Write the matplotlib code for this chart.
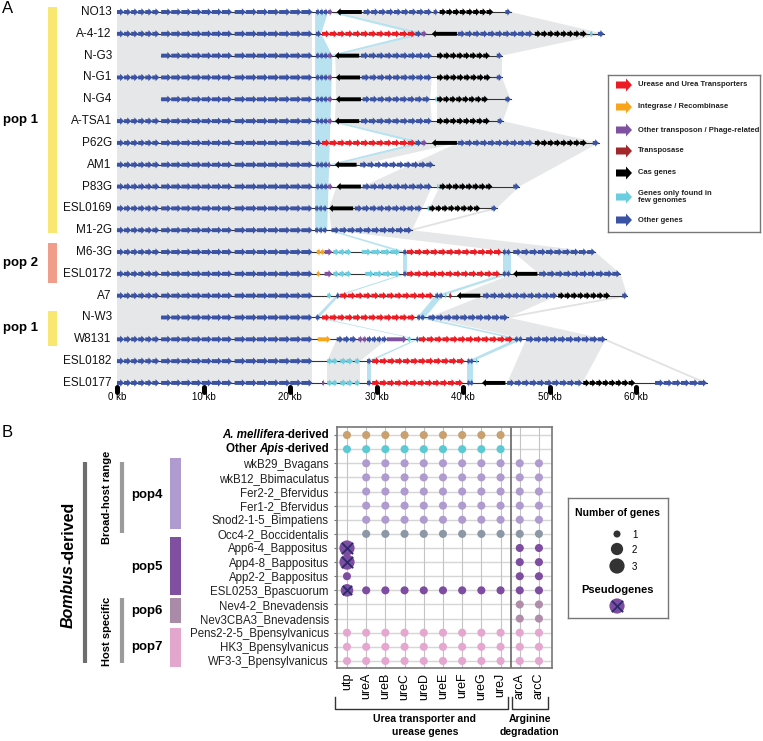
import matplotlib
matplotlib.use('Agg')
import matplotlib.pyplot as plt
from matplotlib.patches import Polygon, Rectangle
from matplotlib.collections import PatchCollection
import numpy as np

plt.rcParams['font.family'] = ['Liberation Sans', 'DejaVu Sans']

# ---------------- Panel A data ----------------
track_names = ['NO13', 'A-4-12', 'N-G3', 'N-G1', 'N-G4', 'A-TSA1', 'P62G', 'AM1', 'P83G',
               'ESL0169', 'M1-2G', 'M6-3G', 'ESL0172', 'A7', 'N-W3', 'W8131', 'ESL0182', 'ESL0177']
track_start = [0, 0, 5.1, 0, 5.1, 0, 0, 0, 0, 0, 0, 0, 0, 0, 5.1, 0, 0, 0]

# gene blocks: (start kb, end kb, category, number of genes, strand)
LEFT = [(0, 4.9, 'O', 6, 1), (5.1, 13.3, 'O', 7, 1), (13.6, 22.6, 'O', 7, 1)]
LEFT5 = LEFT[1:]
track_genes = [
    LEFT + [(23.0, 24.4, 'O', 3, 1), (24.4, 24.9, 'P', 1, 1), (25.4, 28.3, 'C', 1, -1), (28.5, 36.4, 'O', 9, 1),
            (36.6, 37.1, 'O', 1, 1), (37.3, 43.5, 'C', 8, 1), (44.9, 45.5, 'O', 1, 1)],
    LEFT + [(23.0, 23.6, 'O', 1, 1), (23.7, 34.5, 'U', 12, 1), (34.5, 35.2, 'O', 1, 1), (35.2, 35.8, 'P', 1, 1),
            (36.4, 39.3, 'C', 1, -1), (39.4, 48.1, 'O', 10, 1), (48.3, 54.3, 'C', 8, 1), (54.7, 55.0, 'F', 1, 1),
            (55.6, 56.3, 'O', 1, 1)],
    LEFT5 + [(23.0, 24.4, 'O', 3, 1), (24.4, 24.9, 'P', 1, 1), (25.2, 28.0, 'C', 1, -1), (28.2, 36.4, 'O', 9, 1),
             (37.0, 43.1, 'C', 8, 1), (43.9, 44.5, 'O', 1, 1)],
    LEFT + [(23.0, 24.4, 'O', 3, 1), (24.4, 24.9, 'P', 1, 1), (25.3, 28.1, 'C', 1, -1), (28.3, 36.4, 'O', 9, 1),
            (37.0, 43.2, 'C', 8, 1), (43.9, 44.5, 'O', 1, 1)],
    LEFT5 + [(23.0, 24.4, 'O', 3, 1), (24.4, 24.9, 'P', 1, 1), (25.3, 28.2, 'C', 1, -1), (28.4, 36.2, 'O', 9, 1),
             (36.8, 37.0, 'F', 1, 1), (37.0, 42.9, 'C', 8, 1), (44.9, 45.5, 'O', 1, 1)],
    LEFT + [(23.0, 24.4, 'O', 3, 1), (24.4, 24.9, 'P', 1, 1), (25.2, 28.0, 'C', 1, -1), (28.2, 36.4, 'O', 9, 1),
            (37.0, 43.1, 'C', 8, 1), (44.0, 44.6, 'O', 1, 1)],
    LEFT + [(23.0, 23.6, 'O', 1, 1), (23.7, 34.5, 'U', 12, 1), (34.5, 35.2, 'O', 1, 1), (35.2, 35.8, 'P', 1, 1),
            (36.4, 39.3, 'C', 1, -1), (39.4, 48.1, 'O', 10, 1), (48.3, 54.3, 'C', 8, 1), (55.0, 55.7, 'O', 1, 1)],
    LEFT + [(23.0, 24.4, 'O', 3, 1), (24.4, 24.7, 'P', 1, 1), (25.2, 27.7, 'C', 1, -1), (28.1, 36.6, 'O', 10, 1)],
    LEFT + [(23.0, 24.4, 'O', 3, 1), (24.4, 24.9, 'P', 1, 1), (25.4, 28.2, 'C', 1, -1), (28.4, 36.4, 'O', 9, 1),
            (37.0, 37.2, 'F', 1, 1), (37.3, 43.4, 'C', 8, 1), (45.8, 46.5, 'O', 1, 1)],
    LEFT + [(22.9, 24.3, 'O', 3, 1), (24.5, 27.3, 'C', 1, -1), (27.5, 35.3, 'O', 9, 1), (35.9, 36.1, 'F', 1, 1),
            (36.1, 42.0, 'C', 8, 1), (43.3, 43.9, 'O', 1, 1)],
    LEFT + [(22.9, 24.3, 'O', 3, 1), (24.8, 34.1, 'O', 10, 1)],
    LEFT + [(23.1, 23.6, 'I', 1, 1), (23.6, 24.0, 'I', 1, 1), (24.0, 24.9, 'P', 1, 1), (25.0, 27.1, 'F', 3, 1),
            (28.3, 32.7, 'F', 4, 1), (33.1, 33.5, 'O', 1, 1), (33.5, 44.5, 'U', 12, 1), (44.6, 45.5, 'O', 2, 1),
            (45.8, 55.3, 'O', 10, 1)],
    LEFT + [(23.1, 23.5, 'I', 1, 1), (24.0, 24.9, 'P', 1, 1), (25.0, 27.1, 'F', 3, 1), (28.7, 32.7, 'F', 4, 1),
            (33.1, 33.5, 'O', 1, 1), (33.5, 44.3, 'U', 12, 1), (44.6, 45.5, 'O', 2, 1), (45.8, 48.6, 'C', 1, -1),
            (48.8, 58.2, 'O', 10, 1)],
    LEFT + [(24.3, 24.8, 'F', 1, 1), (25.3, 25.7, 'O', 1, -1), (25.8, 36.6, 'U', 12, 1), (36.8, 37.7, 'O', 2, 1),
            (37.9, 38.1, 'F', 1, 1), (38.4, 38.7, 'T', 1, 1), (39.3, 42.0, 'C', 1, -1), (42.3, 50.9, 'O', 10, 1),
            (51.0, 57.0, 'C', 8, 1), (58.4, 59.0, 'O', 1, 1)],
    LEFT5 + [(22.9, 23.4, 'O', 1, -1), (23.7, 34.5, 'U', 12, 1), (34.7, 35.6, 'O', 2, 1), (36.0, 45.2, 'O', 10, 1)],
    LEFT + [(23.2, 24.7, 'I', 1, 1), (25.4, 27.7, 'O', 3, 1), (27.9, 28.9, 'P', 2, 1), (28.9, 31.2, 'O', 4, 1),
            (31.2, 33.5, 'P', 1, 1), (33.6, 34.0, 'F', 1, 1), (34.6, 34.9, 'O', 1, 1), (34.9, 45.8, 'U', 12, 1),
            (46.0, 46.9, 'O', 2, 1), (47.3, 56.5, 'O', 10, 1)],
    LEFT + [(24.3, 25.5, 'F', 2, 1), (25.8, 27.3, 'F', 2, 1), (27.5, 28.1, 'F', 1, 1), (28.9, 29.4, 'O', 1, 1),
            (29.5, 40.2, 'U', 12, 1), (40.5, 41.2, 'O', 2, 1), (41.5, 41.7, 'F', 1, 1)],
    LEFT + [(23.7, 24.0, 'P', 1, 1), (24.3, 25.5, 'F', 2, 1), (25.8, 27.3, 'F', 2, 1), (27.5, 28.1, 'F', 1, 1),
            (28.9, 29.4, 'O', 1, 1), (29.5, 40.0, 'U', 12, 1), (40.5, 41.2, 'O', 2, 1), (42.2, 44.9, 'C', 1, -1),
            (45.1, 53.8, 'O', 10, 1), (53.9, 59.9, 'C', 8, 1), (62.2, 68.2, 'O', 6, 1)],
]

# homology links: (row a, row b, a start, a end, b start, b end, kind)
links = [
    (0, 17, 0, 22.6, 0, 22.6, 'g'),
    (0, 1, 22.9, 24.4, 22.9, 23.6, 'b'), (1, 2, 22.9, 23.6, 22.9, 24.9, 'b'), (2, 10, 22.9, 24.9, 22.9, 24.3, 'b'),
    (0, 1, 25.4, 45.5, 35.8, 56.3, 'g'), (0, 1, 24.4, 25.4, 34.5, 35.8, 'b'),
    (1, 2, 35.8, 56.3, 25.2, 44.5, 'g'), (1, 2, 34.5, 35.8, 24.4, 25.2, 'b'),
    (2, 3, 25.2, 44.5, 25.3, 44.5, 'g'),
    (3, 4, 25.3, 36.4, 25.3, 36.2, 'g'), (3, 4, 37.0, 44.5, 37.0, 45.5, 'g'),
    (4, 5, 25.3, 36.2, 25.2, 36.4, 'g'), (4, 5, 37.0, 45.5, 37.0, 44.6, 'g'),
    (5, 6, 25.2, 44.6, 35.8, 55.7, 'g'), (5, 6, 24.4, 25.2, 34.5, 35.8, 'b'),
    (6, 7, 35.8, 39.4, 25.2, 28.1, 'g'), (6, 7, 34.5, 35.8, 24.4, 25.2, 'b'),
    (6, 8, 39.4, 55.7, 28.4, 46.5, 'g'),
    (8, 9, 25.4, 36.4, 24.5, 35.3, 'g'), (8, 9, 37.3, 46.5, 36.1, 43.9, 'g'),
    (9, 10, 24.5, 35.3, 24.8, 34.1, 'g'), (9, 10, 43.6, 43.9, 33.8, 34.1, 'l'),
    (10, 11, 24.8, 34.1, 45.8, 55.3, 'g'), (10, 11, 24.3, 24.8, 32.7, 33.5, 'b'),
    (11, 12, 33.1, 33.5, 33.1, 33.5, 'b'), (11, 12, 44.6, 45.5, 44.6, 45.5, 'b'),
    (11, 12, 45.8, 55.3, 48.8, 58.2, 'g'),
    (12, 13, 33.1, 33.5, 25.3, 25.7, 'b'), (12, 13, 44.6, 45.5, 36.8, 37.7, 'b'),
    (12, 13, 45.8, 58.2, 39.3, 59.0, 'g'),
    (13, 14, 25.3, 25.7, 22.9, 23.4, 'b'), (13, 14, 36.8, 37.7, 34.7, 35.6, 'b'),
    (13, 14, 42.3, 50.9, 36.0, 45.2, 'g'), (13, 14, 58.7, 59.0, 44.9, 45.2, 'l'),
    (14, 15, 22.9, 23.4, 34.6, 34.9, 'b'), (14, 15, 34.7, 35.6, 46.0, 46.9, 'b'),
    (14, 15, 36.0, 45.2, 47.3, 56.5, 'g'),
    (15, 16, 34.6, 34.9, 28.9, 29.4, 'b'), (15, 16, 46.0, 46.9, 40.5, 41.2, 'b'),
    (15, 16, 25.4, 31.2, 24.3, 28.1, 'g'),
    (15, 17, 47.3, 56.5, 45.1, 53.8, 'g'), (15, 17, 56.2, 56.5, 67.9, 68.2, 'l'),
    (16, 17, 24.3, 28.1, 24.3, 28.1, 'g'), (16, 17, 28.9, 29.4, 28.9, 29.4, 'b'),
    (16, 17, 40.5, 41.2, 40.5, 41.2, 'b'),
]

gene_colors = {'U': '#ED1C24', 'I': '#F9A51B', 'P': '#7E52A0', 'T': '#A3262A',
               'C': '#000000', 'F': '#6ACDE0', 'O': '#3A53A4'}
legend_cats = ['U', 'I', 'P', 'T', 'C', 'F', 'O']
legend_labels = ['Urease and Urea Transporters', 'Integrase / Recombinase',
                 'Other transposon / Phage-related', 'Transposase', 'Cas genes',
                 'Genes only found in\nfew genomes', 'Other genes']

pop_groups = [('pop 1', -0.23, 10.13, '#F8E872'), ('pop 2', 10.6, 12.4, '#F19D8B'),
              ('pop 1', 13.7, 15.3, '#F8E872')]
kb_ticks = [0, 10, 20, 30, 40, 50, 60]

# ---------------- Panel B data ----------------
strains = ['A. mellifera-derived', 'Other Apis-derived', 'wkB29_Bvagans', 'wkB12_Bbimaculatus',
           'Fer2-2_Bfervidus', 'Fer1-2_Bfervidus', 'Snod2-1-5_Bimpatiens', 'Occ4-2_Boccidentalis',
           'App6-4_Bappositus', 'App4-8_Bappositus', 'App2-2_Bappositus', 'ESL0253_Bpascuorum',
           'Nev4-2_Bnevadensis', 'Nev3CBA3_Bnevadensis', 'Pens2-2-5_Bpensylvanicus',
           'HK3_Bpensylvanicus', 'WF3-3_Bpensylvanicus']
gene_names = ['utp', 'ureA', 'ureB', 'ureC', 'ureD', 'ureE', 'ureF', 'ureG', 'ureJ', 'arcA', 'arcC']
gene_counts = [
    [1, 1, 1, 1, 1, 1, 1, 1, 1, 0, 0],
    [1, 1, 1, 1, 1, 1, 1, 1, 1, 0, 0],
    [0, 1, 1, 1, 1, 1, 1, 1, 1, 1, 1],
    [0, 1, 1, 1, 1, 1, 1, 1, 1, 1, 1],
    [0, 1, 1, 1, 1, 1, 1, 1, 1, 1, 1],
    [0, 1, 1, 1, 1, 1, 1, 1, 1, 1, 1],
    [0, 1, 1, 1, 1, 1, 1, 1, 1, 1, 1],
    [0, 1, 1, 1, 1, 1, 1, 1, 1, 1, 1],
    [3, 0, 0, 0, 0, 0, 0, 0, 0, 1, 1],
    [3, 0, 0, 0, 0, 0, 0, 0, 0, 1, 1],
    [1, 0, 0, 0, 0, 0, 0, 0, 0, 1, 1],
    [2, 1, 1, 1, 1, 1, 1, 1, 1, 1, 1],
    [0, 0, 0, 0, 0, 0, 0, 0, 0, 1, 1],
    [0, 0, 0, 0, 0, 0, 0, 0, 0, 1, 1],
    [1, 1, 1, 1, 1, 1, 1, 1, 1, 1, 1],
    [1, 1, 1, 1, 1, 1, 1, 1, 1, 1, 1],
    [1, 1, 1, 1, 1, 1, 1, 1, 1, 1, 1],
]
pseudogenes = [(8, 0), (9, 0), (11, 0)]
strain_colors = ['#C9A06F', '#5CC9D3'] + ['#B09BD0'] * 5 + ['#8C98A6'] + ['#7E4CA0'] * 4 + \
                ['#B08DAA'] * 2 + ['#E5A6D0'] * 3
size_of = {1: 34, 2: 82, 3: 120}

pop_bars_B = [('pop4', 1.63, 6.65, '#B09BD0', 4.25), ('pop5', 7.25, 11.3, '#8050A0', 9.35),
              ('pop6', 11.55, 13.3, '#A98BA8', 12.46), ('pop7', 13.7, 16.45, '#E3A6CD', 15.0)]

# ---------------- figure ----------------
W, H = 763, 741
fig = plt.figure(figsize=(W / 100, H / 100), dpi=100)


def px_axes(x0, y0, x1, y1):
    return fig.add_axes([x0 / W, 1 - y1 / H, (x1 - x0) / W, (y1 - y0) / H])


def arrow_poly(x0, x1, y, d, hb=0.09, hh=0.17, hl=0.45):
    hl = min(hl, (x1 - x0) * 0.6)
    if d > 0:
        xs = [x0, x1 - hl, x1 - hl, x1, x1 - hl, x1 - hl, x0]
    else:
        xs = [x1, x0 + hl, x0 + hl, x0, x0 + hl, x0 + hl, x1]
    ys = [y - hb, y - hb, y - hh, y, y + hh, y + hb, y + hb]
    return np.column_stack([xs, ys])


# ---- Panel A ----
axA = px_axes(0, 0, 757, 400)
axA.set_xlim(-117 / 8.65, 640 / 8.65)
axA.set_ylim(388 / 21.82, -12 / 21.82)
axA.axis('off')

for ra, rb, a0, a1, b0, b1, kind in links:
    if kind == 'l':
        axA.plot([(a0 + a1) / 2, (b0 + b1) / 2], [ra, rb], color='#E2E2E2', lw=1.3, zorder=0.5)
    else:
        col = '#E6E7E8' if kind == 'g' else '#B8E2EF'
        axA.add_patch(Polygon([(a0, ra), (a1, ra), (b1, rb), (b0, rb)], closed=True,
                              facecolor=col, edgecolor='none', zorder=0.4 if kind == 'g' else 0.6))

polys, cols = [], []
for i, (name, start, genes) in enumerate(zip(track_names, track_start, track_genes)):
    end = max(g[1] for g in genes)
    axA.plot([start, end], [i, i], color='#333333', lw=0.8, zorder=1)
    for g0, g1, cat, n, d in genes:
        edges = np.linspace(g0, g1, n + 1)
        for k in range(n):
            polys.append(Polygon(arrow_poly(edges[k], edges[k + 1], i, d), closed=True))
            cols.append(gene_colors[cat])
    axA.text(-0.6, i, name, ha='right', va='center', fontsize=8.5, color='#111111')
axA.add_collection(PatchCollection(polys, facecolors=cols, edgecolors='none', zorder=2))

for label, y0, y1, col in pop_groups:
    axA.add_patch(Rectangle((-7.98, y0), 1.04, y1 - y0, facecolor=col, edgecolor='none'))
    axA.text(-11.1, (y0 + y1) / 2, label, ha='center', va='center', fontsize=9.5,
             fontweight='bold')

for k in kb_ticks:
    axA.plot([k, k], [17.18, 17.42], color='black', lw=3.6, solid_capstyle='round', zorder=3)
    axA.text(k, 17.66, f'{k} kb', ha='center', va='center', fontsize=7)

fig.text(2 / W, 1 - 1 / H, 'A', fontsize=12, va='top', ha='left')
fig.text(2 / W, 1 - 425 / H, 'B', fontsize=12, va='top', ha='left')

# legend A
axL = px_axes(608, 75, 760, 232)
axL.set_xlim(0, 152)
axL.set_ylim(157, 0)
axL.set_xticks([])
axL.set_yticks([])
for s in axL.spines.values():
    s.set_color('#777777')
    s.set_linewidth(1)
leg_y = [10, 32, 55, 76, 98, 122, 145]
for cat, lab, y in zip(legend_cats, legend_labels, leg_y):
    axL.add_patch(Polygon(arrow_poly(8, 24, y, 1, hb=3.5, hh=6.5, hl=6), closed=True,
                          facecolor=gene_colors[cat], edgecolor='none'))
    axL.text(30, y, lab, ha='left', va='center', fontsize=5.5, fontweight='bold',
             color='#222222', linespacing=1.0)

# ---- Panel B ----
axB = px_axes(337, 427, 552, 668)
axB.set_xlim(-0.52, 10.68)
axB.set_ylim(16.5, -0.57)
axB.hlines(range(len(strains)), -0.52, 10.68, color='#D6D6D6', lw=1, zorder=0)
axB.vlines(range(len(gene_names)), -0.57, 16.5, color='#C4C4C4', lw=0.8, zorder=0)
axB.axvline(8.55, color='#666666', lw=1.2, zorder=1)

counts = np.array(gene_counts)
for r in range(counts.shape[0]):
    for c in range(counts.shape[1]):
        v = counts[r, c]
        if v > 0:
            axB.scatter(c, r, s=size_of[v], color=strain_colors[r], edgecolors='none', zorder=3)
for r, c in pseudogenes:
    axB.scatter(c, r, s=size_of[counts[r, c]] * 0.55, marker='x', color='#2C2A6E',
                linewidths=1.3, zorder=4)

for s in axB.spines.values():
    s.set_color('#777777')
    s.set_linewidth(1.2)
axB.set_xticks(range(len(gene_names)))
axB.set_xticklabels(gene_names, rotation=90, fontsize=9, va='top')
axB.tick_params(axis='x', length=0, pad=3.5)
axB.set_yticks(range(len(strains)))
axB.set_yticklabels([''] * 2 + strains[2:], fontsize=8.3, color='#222222')
axB.tick_params(axis='y', length=2.5, width=0.8, color='#777777', pad=3.5)

t1 = axB.text(-0.94, 0, '-derived', ha='right', va='center', fontsize=8.3, fontweight='bold')
axB.annotate('A. mellifera', xy=(0, 0), xycoords=t1, ha='right', va='bottom',
             fontsize=8.3, fontweight='bold', style='italic')
t2 = axB.text(-0.94, 1, '-derived', ha='right', va='center', fontsize=8.3, fontweight='bold')
t3 = axB.annotate('Apis', xy=(0, 0), xycoords=t2, ha='right', va='bottom',
                  fontsize=8.3, fontweight='bold', style='italic')
axB.annotate('Other ', xy=(0, 0), xycoords=t3, ha='right', va='bottom',
             fontsize=8.3, fontweight='bold')

# brackets under gene labels
axB.plot([-0.62, -0.62, 8.39, 8.39], [18.55, 19.4, 19.4, 18.55], color='#333333', lw=1, clip_on=False)
axB.plot([8.6, 8.6, 10.47, 10.47], [18.55, 19.4, 19.4, 18.55], color='#333333', lw=1, clip_on=False)
axB.text(4.06, 19.75, 'Urea transporter and\nurease genes', ha='center', va='top', fontsize=7.5,
         fontweight='bold', linespacing=1.35)
axB.text(9.53, 19.75, 'Arginine\ndegradation', ha='center', va='top', fontsize=7.5,
         fontweight='bold', linespacing=1.35)

# group annotations on the left
axB.plot([-13.65, -13.65], [1.91, 16.14], color='#6E6E6E', lw=3, clip_on=False, solid_capstyle='butt')
axB.text(-14.5, 9.13, 'Bombus', rotation=90, ha='center', va='top', fontsize=11.5,
         fontweight='bold', style='italic')
axB.text(-14.5, 9.13, '-derived', rotation=90, ha='center', va='bottom', fontsize=11.5,
         fontweight='bold')
axB.plot([-11.72, -11.72], [1.91, 6.94], color='#9B9B9B', lw=3, clip_on=False, solid_capstyle='butt')
axB.plot([-11.72, -11.72], [11.54, 16.14], color='#9B9B9B', lw=3, clip_on=False, solid_capstyle='butt')
axB.text(-12.5, 4.4, 'Broad-host range', rotation=90, ha='center', va='center', fontsize=8,
         fontweight='bold')
axB.text(-12.5, 13.9, 'Host specific', rotation=90, ha='center', va='center', fontsize=8,
         fontweight='bold')
for lab, y0, y1, col, ylab in pop_bars_B:
    axB.add_patch(Rectangle((-9.22, y0), 0.57, y1 - y0, facecolor=col, edgecolor='none', clip_on=False))
    axB.text(-10.42, ylab, lab, ha='center', va='center', fontsize=9.5, fontweight='bold')

# legend B
axM = px_axes(568, 498, 668, 618)
axM.set_xlim(0, 100)
axM.set_ylim(120, 0)
axM.set_xticks([])
axM.set_yticks([])
for s in axM.spines.values():
    s.set_color('#777777')
    s.set_linewidth(1)
axM.text(49, 15, 'Number of genes', ha='center', va='center', fontsize=7.5, fontweight='bold')
for n, y in zip([1, 2, 3], [36, 51, 68]):
    axM.scatter(49, y, s=[26, 78, 120][n - 1], color='#333333', edgecolors='none')
    axM.text(64, y + 1, str(n), ha='left', va='center', fontsize=7)
axM.text(49, 92, 'Pseudogenes', ha='center', va='center', fontsize=8, fontweight='bold')
axM.scatter(49, 108, s=120, color='#7E4CA0', edgecolors='none')
axM.scatter(49, 108, s=66, marker='x', color='#2C2A6E', linewidths=1.3)

fig.savefig('out.png', dpi=100)
